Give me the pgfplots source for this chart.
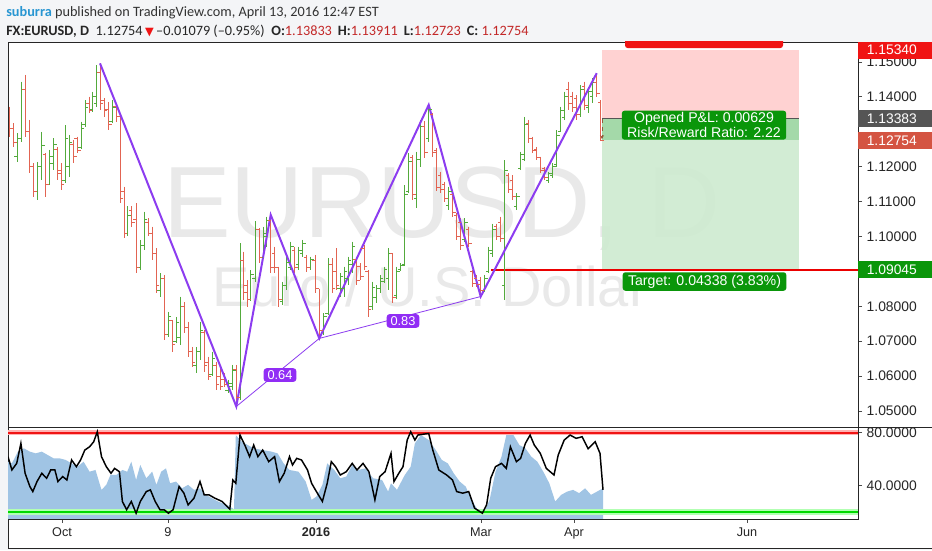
\documentclass[border=0pt]{standalone}
\usepackage{fontspec}
\setmainfont{Liberation Sans}
\newfontfamily\hdr{Carlito}
\newfontfamily\djv{DejaVu Sans}
\usepackage{pgfplots}
\pgfplotsset{compat=1.18}
\usepackage{pgfplotstable}
\usetikzlibrary{arrows.meta}

\definecolor{upbar}{RGB}{83,170,60}
\definecolor{dnbar}{RGB}{226,100,82}
\definecolor{zig}{RGB}{140,60,240}
\definecolor{lblpurple}{RGB}{145,45,245}
\definecolor{wmark}{RGB}{233,233,233}
\definecolor{stopfill}{RGB}{255,206,206}
\definecolor{tgtfill}{RGB}{206,235,208}
\definecolor{pnlfill}{RGB}{160,215,165}
\definecolor{tvgreen}{RGB}{10,150,10}
\definecolor{tvred}{RGB}{240,20,20}
\definecolor{tgtline}{RGB}{235,0,0}
\definecolor{lastred}{RGB}{212,84,66}
\definecolor{entrygray}{RGB}{85,85,85}
\definecolor{osc}{RGB}{160,196,228}
\definecolor{hdrbg}{RGB}{244,245,247}
\definecolor{hdrblue}{RGB}{40,150,210}
\definecolor{valred}{RGB}{195,40,40}
\definecolor{arrowbrown}{RGB}{150,90,60}

% daily bars: x position (px), open, high, low, close
\pgfplotstableread{
x o h l c
9.3 1.1355 1.1372 1.1286 1.1310
13.3 1.1310 1.1324 1.1257 1.1270
17.3 1.1230 1.1296 1.1214 1.1280
21.7 1.1280 1.1444 1.1270 1.1420
25.0 1.1420 1.1463 1.1286 1.1300
29.3 1.1300 1.1334 1.1181 1.1200
33.3 1.1200 1.1210 1.1114 1.1130
37.3 1.1130 1.1214 1.1105 1.1200
41.7 1.1200 1.1300 1.1162 1.1260
45.7 1.1235 1.1238 1.1114 1.1150
49.3 1.1150 1.1248 1.1148 1.1230
53.3 1.1210 1.1281 1.1191 1.1265
57.3 1.1250 1.1257 1.1162 1.1180
61.0 1.1190 1.1210 1.1133 1.1150
65.0 1.1160 1.1319 1.1152 1.1280
69.0 1.1200 1.1291 1.1171 1.1270
73.3 1.1265 1.1277 1.1210 1.1230
77.3 1.1280 1.1286 1.1238 1.1245
81.0 1.1255 1.1329 1.1250 1.1310
85.0 1.1320 1.1391 1.1315 1.1370
89.0 1.1380 1.1401 1.1353 1.1360
92.7 1.1365 1.1415 1.1358 1.1400
96.7 1.1380 1.1491 1.1372 1.1470
100.0 1.1470 1.1496 1.1362 1.1380
104.0 1.1390 1.1396 1.1343 1.1360
108.3 1.1365 1.1386 1.1305 1.1320
112.3 1.1330 1.1391 1.1324 1.1370
116.0 1.1372 1.1377 1.1329 1.1345
120.0 1.1345 1.1350 1.1095 1.1110
124.0 1.1130 1.1143 1.0995 1.1010
127.7 1.1010 1.1086 1.1000 1.1060
131.7 1.1075 1.1086 1.1028 1.1040
136.0 1.1050 1.1095 1.0895 1.0910
140.0 1.0910 1.0990 1.0904 1.0975
144.0 1.0975 1.1071 1.0961 1.1050
148.0 1.1040 1.1052 1.1000 1.1010
152.0 1.1010 1.1028 1.0933 1.0950
156.0 1.0950 1.0966 1.0837 1.0860
160.0 1.0845 1.0895 1.0828 1.0880
164.0 1.0880 1.0890 1.0704 1.0720
168.0 1.0720 1.0785 1.0713 1.0770
172.0 1.0760 1.0761 1.0670 1.0690
176.0 1.0700 1.0770 1.0694 1.0755
180.0 1.0710 1.0828 1.0689 1.0800
184.0 1.0800 1.0813 1.0723 1.0740
188.0 1.0740 1.0756 1.0656 1.0670
192.0 1.0670 1.0684 1.0627 1.0640
196.0 1.0630 1.0684 1.0608 1.0670
200.0 1.0670 1.0756 1.0646 1.0730
204.0 1.0725 1.0732 1.0613 1.0630
208.0 1.0640 1.0656 1.0589 1.0600
212.0 1.0605 1.0670 1.0600 1.0650
216.0 1.0630 1.0641 1.0560 1.0575
220.0 1.0600 1.0622 1.0560 1.0570
224.0 1.0590 1.0608 1.0570 1.0575
228.3 1.0560 1.0589 1.0551 1.0580
232.3 1.0570 1.0632 1.0560 1.0615
236.3 1.0620 1.0632 1.0513 1.0540
240.0 1.0540 1.0980 1.0532 1.0930
243.3 1.0930 1.0957 1.0818 1.0840
247.3 1.0860 1.0875 1.0799 1.0820
250.7 1.0820 1.0904 1.0815 1.0890
255.0 1.0880 1.1043 1.0870 1.1020
259.0 1.1020 1.1023 1.0923 1.0940
263.0 1.0940 1.1028 1.0935 1.1010
266.7 1.1000 1.1057 1.0971 1.1045
270.7 1.1045 1.1062 1.0895 1.0910
274.7 1.0950 1.0971 1.0895 1.0910
278.7 1.0910 1.0914 1.0799 1.0820
282.7 1.0815 1.0871 1.0804 1.0860
286.7 1.0860 1.0942 1.0847 1.0925
290.7 1.0910 1.0985 1.0904 1.0970
294.7 1.0960 1.0971 1.0895 1.0910
298.7 1.0920 1.0971 1.0904 1.0960
302.7 1.0950 1.0990 1.0942 1.0980
306.7 1.0940 1.0947 1.0899 1.0910
310.7 1.0910 1.0942 1.0904 1.0935
315.3 1.0930 1.0947 1.0837 1.0850
319.3 1.0850 1.0850 1.0708 1.0730
323.3 1.0730 1.0780 1.0718 1.0770
328.0 1.0780 1.0938 1.0775 1.0920
332.0 1.0920 1.0938 1.0837 1.0850
336.0 1.0900 1.0966 1.0847 1.0860
340.0 1.0850 1.0895 1.0828 1.0885
344.0 1.0850 1.0914 1.0828 1.0900
348.0 1.0880 1.0942 1.0861 1.0930
352.0 1.0920 1.0985 1.0895 1.0970
356.3 1.0935 1.0942 1.0861 1.0875
360.3 1.0915 1.0923 1.0875 1.0885
364.0 1.0965 1.0976 1.0904 1.0915
368.0 1.0900 1.0904 1.0770 1.0790
372.0 1.0800 1.0871 1.0790 1.0855
376.0 1.0825 1.0861 1.0809 1.0850
380.0 1.0850 1.0890 1.0837 1.0880
384.0 1.0870 1.0914 1.0866 1.0905
388.7 1.0880 1.0966 1.0847 1.0950
392.7 1.0950 1.0952 1.0809 1.0825
396.7 1.0830 1.0914 1.0820 1.0900
400.7 1.0905 1.0923 1.0900 1.0918
404.7 1.0920 1.1147 1.0915 1.1120
408.7 1.1130 1.1238 1.1125 1.1215
412.7 1.1225 1.1234 1.1105 1.1120
416.7 1.1110 1.1243 1.1081 1.1220
420.7 1.1220 1.1334 1.1200 1.1315
424.7 1.1315 1.1330 1.1224 1.1240
428.7 1.1280 1.1377 1.1270 1.1365
432.7 1.1350 1.1355 1.1229 1.1240
436.7 1.1245 1.1253 1.1129 1.1140
440.7 1.1175 1.1186 1.1124 1.1135
444.7 1.1150 1.1157 1.1100 1.1110
448.7 1.1090 1.1143 1.1076 1.1130
452.7 1.1120 1.1124 1.1057 1.1070
456.7 1.1060 1.1066 1.0990 1.1000
460.7 1.1040 1.1052 1.0961 1.0975
464.7 1.0990 1.1052 1.0985 1.1040
468.7 1.1020 1.1028 1.0971 1.0980
472.7 1.0900 1.0904 1.0856 1.0865
476.7 1.0880 1.0890 1.0856 1.0862
480.7 1.0875 1.0885 1.0828 1.0845
484.7 1.0845 1.0890 1.0840 1.0880
488.7 1.0900 1.0971 1.0895 1.0960
492.7 1.0950 1.1037 1.0942 1.1020
496.7 1.1030 1.1037 1.0990 1.1000
500.7 1.1040 1.1057 1.0985 1.0995
504.7 1.0860 1.1219 1.0818 1.1190
508.7 1.1175 1.1181 1.1124 1.1135
512.7 1.1160 1.1176 1.1105 1.1115
516.7 1.1085 1.1124 1.1076 1.1115
520.7 1.1195 1.1243 1.1191 1.1235
524.7 1.1220 1.1343 1.1215 1.1320
528.7 1.1325 1.1334 1.1267 1.1280
532.7 1.1280 1.1286 1.1238 1.1245
536.7 1.1250 1.1257 1.1219 1.1225
540.7 1.1225 1.1229 1.1181 1.1190
544.7 1.1195 1.1200 1.1162 1.1170
548.7 1.1160 1.1186 1.1152 1.1180
552.7 1.1175 1.1210 1.1167 1.1200
556.7 1.1205 1.1305 1.1200 1.1290
560.7 1.1300 1.1372 1.1300 1.1360
564.7 1.1340 1.1415 1.1334 1.1400
568.7 1.1420 1.1444 1.1363 1.1380
572.7 1.1400 1.1415 1.1358 1.1370
576.7 1.1395 1.1405 1.1334 1.1350
580.7 1.1350 1.1434 1.1343 1.1420
584.7 1.1430 1.1444 1.1363 1.1375
588.7 1.1370 1.1429 1.1353 1.1415
592.7 1.1400 1.1453 1.1382 1.1440
596.7 1.1440 1.1468 1.1401 1.1410
600.7 1.13833 1.13911 1.12723 1.12754
}\bars

% oscillator, black line
\pgfplotstableread{
x v
8 61.9
11.9 51.8
16.7 56.8
20.9 72
25.1 49.3
29.9 39.2
32.8 35.4
37 43
41.8 49.3
46.6 45.5
50.7 51.8
54.9 51.8
57.9 43
62.7 46.8
66.9 44.2
71.6 59.4
76.4 54.3
80.6 59.4
84.8 66.9
89.6 69.4
93.7 73.2
97.3 80.8
101.5 61.9
106.3 54.3
111 49.3
114.6 53
119.4 50.5
122.4 27.9
126.6 21.6
131.3 27.9
136.1 19
140.3 27.9
146.3 35.4
150.4 36.7
155.2 27.9
160 21.6
164.2 21.6
168.4 19
173.1 21.6
179.1 39.2
183.9 34.2
188.1 25.3
194 30.4
200 43
204.2 32.9
209 32.9
214.9 30.4
222.1 27.9
229.8 22
232.8 44.2
235.8 41.7
240 78.3
244.8 70.7
249.6 61.9
253.7 70.7
257.9 61.9
262.7 66.9
268.7 58.1
274.6 61.9
279.4 43
284.2 49.3
289.5 61.9
292.5 55.6
296.7 60.6
301.5 59.4
307.5 51.8
311.6 41.7
316.4 35.4
322.4 27.9
327.2 41.7
331.3 58.1
335.5 54.3
340.3 48
346.3 50.5
352.2 56.8
357 51.8
363 56.8
368.9 50.5
374.9 29.1
379.7 46.8
385.1 50.5
391 64.4
394 43
398.8 49.3
403 54.3
407.2 74.5
410.7 80.8
414.9 74.5
417.9 78.3
423.9 79
428.7 79.5
432.8 66.9
438.8 51.8
446.6 48
452.5 44.2
456.7 35.4
462.7 34.2
468.7 35.4
474.6 22.8
482.4 19
486.6 25.3
490.7 45.5
495.5 54.3
501.5 56.8
506.3 53
510.4 69.4
516.4 58.1
520.6 60.6
525.4 72
530.1 78.3
534.3 70.7
540.3 64.4
546.3 53
554 48
558.2 63.1
564.2 74.5
570.1 78.3
576.1 75.8
582.1 77
588.1 67.9
595.2 73.2
600 64.4
603 36.7
}\kline

% oscillator, blue area (closed along the pane bottom)
\pgfplotstableread{
x v
8 14.6
8 58.1
11.9 56.8
17.9 65.7
23.9 68.2
29.9 65.7
35.8 64.4
41.8 65.7
47.8 63.1
53.7 60.6
59.7 60.6
65.7 59.4
71.6 56.8
77.6 54.3
83.6 58.1
89.6 50.5
95.5 51.8
98.5 44.2
101.5 36.7
106.3 40.5
110.4 48
116.4 48
122.4 51.8
127.2 50.5
131.3 58.1
136.1 44.2
140.3 55.6
146.3 45.5
152.2 50.5
156.4 40.5
161.2 50.5
166 53
170.1 41.7
176.1 43
182.1 37.9
188.1 40.5
194 36.7
200 37.9
206 32.9
211.9 30.4
217.9 27.9
226.9 25.3
234 22
235.8 78.3
241.8 73.2
247.8 70.7
253.7 68.2
262.7 66.9
271.6 65.7
277.6 64.4
283.6 56.8
289.5 51.8
298.5 50.5
305.7 43
311.6 29.1
316.4 31.6
322.4 40.5
327.2 56.8
334.3 51.8
340.3 45.5
346.3 46.8
352.2 55.6
358.2 51.8
365.4 53
373.1 45.5
382.1 44.2
388.1 35.4
391 41.7
397 36.7
404.8 48
410.7 54.3
414.9 72
420.9 78.3
428.7 74.5
435.8 66.9
441.8 59.4
447.8 56.8
453.7 49.3
459.7 43
465.7 39.2
471.6 29.1
477.6 21.6
483.6 19
489.6 29.1
495.5 50.5
501.5 61.9
506.3 78.3
513.4 78.3
519.4 70.7
525.4 68.2
531.3 61.9
537.3 58.1
543.3 50.5
549.3 41.7
555.2 27.9
561.2 32.9
567.2 35.4
573.1 36.7
579.1 34.2
585.1 37.9
591 32.9
597 35.4
603 37.9
603 14.6
}\darea

\begin{document}
\begin{tikzpicture}[x=0.75pt,y=0.75pt]
\useasboundingbox (0,0) rectangle (932,550);
\fill[hdrbg] (0,0) rectangle (932,550);
\fill[white] (8,2) rectangle (932,508);

% header
\node[anchor=base west, inner sep=0pt, font=\hdr\fontsize{10.7}{12}\selectfont, text=black!80]
  at (6,533.5) {\textcolor{hdrblue}{\bfseries suburra} published on TradingView.com, April 13, 2016 12:47 EST};
\node[anchor=base west, inner sep=0pt, font=\hdr\fontsize{10.7}{12}\selectfont, text=black!85]
  at (6,514.5) {\textbf{FX:EURUSD, D}\hspace{5pt}1.12754\,{\djv\fontsize{8.5}{9}\selectfont\textcolor{tvred}{▼}}\,–0.01079 (–0.95\%)\hspace{5pt}\textbf{O:}\textcolor{valred}{1.13833}\hspace{4.5pt}\textbf{H:}\textcolor{valred}{1.13911}\hspace{4.5pt}\textbf{L:}\textcolor{valred}{1.12723}\hspace{4.5pt}\textbf{C:} \textcolor{valred}{1.12754}};

% price pane
\begin{axis}[
  at={(6pt,92.25pt)}, anchor=south west,
  width=637.5pt, height=288.75pt, scale only axis,
  xmin=8, xmax=858, ymin=1.045415, ymax=1.155731,
  xtick=\empty,
  ytick={1.05,1.06,1.07,1.08,1.10,1.11,1.12,1.14,1.15},
  ytick pos=right, yticklabel pos=right,
  tick align=outside, major tick length=3pt,
  tick style={black!70, line width=0.6pt},
  axis line style={black!85, line width=0.6pt},
  yticklabel style={font=\fontsize{10.4}{12}\selectfont, text=black!85,
    /pgf/number format/.cd, fixed, fixed zerofill, precision=5, assume math mode=true},
]
% watermark
\node[anchor=base, text=wmark, font=\fontsize{76}{76}\selectfont, inner sep=0pt] at (axis cs:442,1.0996) {EURUSD, D};
\node[anchor=base, text=wmark, font=\fontsize{42}{42}\selectfont, inner sep=0pt] at (axis cs:430,1.0798) {Euro / U.S. Dollar};

% long position tool
\fill[stopfill, opacity=0.9] (axis cs:602,1.13383) rectangle (axis cs:799,1.15340);
\fill[tgtfill, opacity=0.9] (axis cs:602,1.09045) rectangle (axis cs:799,1.13383);
\fill[pnlfill, opacity=0.9] (axis cs:602,1.12754) rectangle (axis cs:799,1.13383);
\addplot[draw=entrygray, line width=0.75pt] coordinates {(602,1.13383) (799,1.13383)};
\addplot[color=tgtline, line width=1.1pt] coordinates {(491,1.09045) (858,1.09045)};
\fill[tvred, rounded corners=2pt] (axis cs:625,1.1540) rectangle (axis cs:783,1.1600);

% bars: up
\addplot[draw=none, mark=none,
  restrict expr to domain={\thisrow{c}-\thisrow{o}}{0:1},
  error bars/.cd, y dir=minus, y explicit, error mark=none,
  error bar style={draw=upbar, line width=0.75pt}]
  table[x=x, y=h, y error minus expr=\thisrow{h}-\thisrow{l}] {\bars};
\addplot[upbar, only marks, mark=-, mark size=1.2pt, mark options={line width=0.75pt},
  restrict expr to domain={\thisrow{c}-\thisrow{o}}{0:1}]
  table[x expr=\thisrow{x}-1.6, y=o] {\bars};
\addplot[upbar, only marks, mark=-, mark size=1.2pt, mark options={line width=0.75pt},
  restrict expr to domain={\thisrow{c}-\thisrow{o}}{0:1}]
  table[x expr=\thisrow{x}+1.6, y=c] {\bars};
% bars: down
\addplot[draw=none, mark=none,
  restrict expr to domain={\thisrow{c}-\thisrow{o}}{-1:0},
  error bars/.cd, y dir=minus, y explicit, error mark=none,
  error bar style={draw=dnbar, line width=0.75pt}]
  table[x=x, y=h, y error minus expr=\thisrow{h}-\thisrow{l}] {\bars};
\addplot[dnbar, only marks, mark=-, mark size=1.2pt, mark options={line width=0.75pt},
  restrict expr to domain={\thisrow{c}-\thisrow{o}}{-1:0}]
  table[x expr=\thisrow{x}-1.6, y=o] {\bars};
\addplot[dnbar, only marks, mark=-, mark size=1.2pt, mark options={line width=0.75pt},
  restrict expr to domain={\thisrow{c}-\thisrow{o}}{-1:0}]
  table[x expr=\thisrow{x}+1.6, y=c] {\bars};

\draw[arrowbrown, dashed, line width=0.75pt, -{Stealth[length=3pt,width=3pt]}] (axis cs:602,1.1338) -- (axis cs:602,1.1279);

% zigzag pattern
\addplot[zig, line width=0.6pt] coordinates {(236.3,1.0513) (319.3,1.0708) (480.7,1.0828)};
\addplot[zig, line width=1.5pt] coordinates {(100,1.1496) (236.3,1.0513) (270.7,1.1062) (319.3,1.0708) (428.7,1.1377) (480.7,1.0828) (596.7,1.1468)};
\node[fill=lblpurple, text=white, rounded corners=2.5pt, inner xsep=3pt, inner ysep=1.8pt, font=\fontsize{9.6}{10}\selectfont] at (axis cs:280,1.0603) {0.64};
\node[fill=lblpurple, text=white, rounded corners=2.5pt, inner xsep=3pt, inner ysep=1.8pt, font=\fontsize{9.6}{10}\selectfont] at (axis cs:403,1.0758) {0.83};

% position labels
\node[fill=tvgreen, text=white, rounded corners=2pt, align=center, inner xsep=4pt, inner ysep=1.5pt,
  font=\fontsize{10.6}{9.8}\selectfont] at (axis cs:704,1.1319) {Opened P\&L: 0.00629\\Risk/Reward Ratio: 2.22};
\node[fill=tvgreen, text=white, rounded corners=2pt, inner xsep=4pt, inner ysep=2pt,
  font=\fontsize{10.6}{10}\selectfont] at (axis cs:704.5,1.0871) {Target: 0.04338 (3.83\%)};
\end{axis}

% oscillator pane
\begin{axis}[
  at={(6pt,23.25pt)}, anchor=south west,
  width=637.5pt, height=69pt, scale only axis,
  xmin=8, xmax=858, ymin=14.6, ymax=84.4,
  ytick={40,80}, ytick pos=right, yticklabel pos=right,
  xtick={62,168,316,481,574,747},
  xticklabels={Oct,9,\textbf{2016},Mar,Apr,Jun},
  xtick pos=bottom,
  tick align=outside, major tick length=3pt,
  tick style={black!70, line width=0.6pt},
  axis line style={black!85, line width=0.6pt},
  xticklabel style={font=\fontsize{9.5}{11}\selectfont, text=black!85},
  yticklabel style={font=\fontsize{10.4}{12}\selectfont, text=black!85,
    /pgf/number format/.cd, fixed, fixed zerofill, precision=4, assume math mode=true},
]
\addplot[fill=osc, draw=none] table[x=x, y=v] {\darea};
\addplot[red!30, line width=4pt] coordinates {(8,80) (858,80)};
\addplot[tvred, line width=1.8pt] coordinates {(8,80) (858,80)};
\addplot[green!30, line width=4pt] coordinates {(8,20) (858,20)};
\addplot[green!85!black, line width=1.8pt] coordinates {(8,20) (858,20)};
\addplot[black, line width=1.1pt] table[x=x, y=v] {\kline};
\end{axis}

% frame
\draw[black!85, line width=0.6pt] (858,123) -- (932,123);
\draw[black!85, line width=0.6pt] (8,31) -- (8,2) -- (932,2);

% coloured price labels on the right scale
\fill[tvred] (858,491.4) rectangle (932,508.4);
\node[anchor=west, text=white, inner sep=0pt, font=\fontsize{10.4}{12}\selectfont] at (866.5,499.9) {1.15340};
\fill[entrygray] (858,423.1) rectangle (932,440.1);
\node[anchor=west, text=white, inner sep=0pt, font=\fontsize{10.4}{12}\selectfont] at (866.5,431.6) {1.13383};
\fill[lastred] (858,401.1) rectangle (932,418.1);
\node[anchor=west, text=white, inner sep=0pt, font=\fontsize{10.4}{12}\selectfont] at (866.5,409.6) {1.12754};
\fill[tvgreen] (858,271.7) rectangle (932,288.7);
\node[anchor=west, text=white, inner sep=0pt, font=\fontsize{10.4}{12}\selectfont] at (866.5,280.2) {1.09045};
\end{tikzpicture}
\end{document}
